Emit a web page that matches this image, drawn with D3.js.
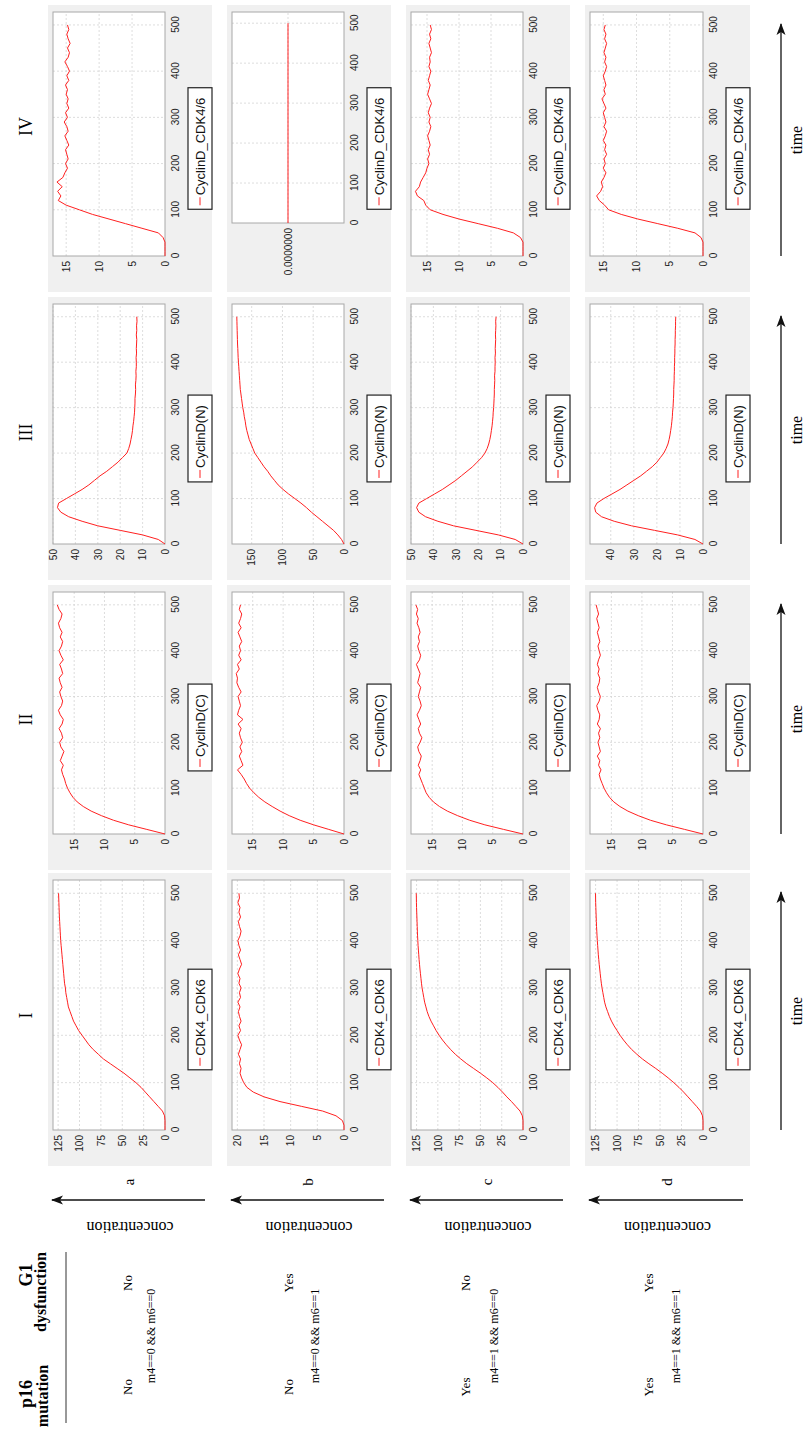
<!DOCTYPE html>
<html><head><meta charset="utf-8">
<script src="https://cdn.jsdelivr.net/npm/d3@7"></script>
<style>body{margin:0;background:#fff}svg{display:block}</style>
</head><body><svg id="c" width="804" height="1432"></svg>
<script>
// ---------------- data ----------------
const times = [0,10,20,30,40,50,60,70,80,90,100,110,120,130,140,150,160,170,180,190,200,210,220,230,240,250,260,270,280,290,300,310,320,330,340,350,360,370,380,390,400,410,420,430,440,450,460,470,480,490,500];
const timeTicks = [0,100,200,300,400,500];
const rowLabels = ["a","b","c","d"];
const colLabels = ["I","II","III","IV"];
const seriesNames = ["CDK4_CDK6","CyclinD(C)","CyclinD(N)","CyclinD_CDK4/6"];
const p16Values = ["No","No","Yes","Yes"];
const g1Values = ["No","Yes","No","Yes"];
const conditions = ["m4==0 && m6==0","m4==0 && m6==1","m4==1 && m6==0","m4==1 && m6==1"];

const cdk46_a = [0,0,0,0.5,3,8,13,18,23,28,34,41,48,56,64,72,78,84,89,93,97,101,104,107,109,111,113,114,115,116,116.5,117.5,118,118.5,119,119.5,120,120.5,121,121.5,122,122.3,122.6,122.9,123.2,123.5,123.7,123.9,124.1,124.3,124.5];
const cdk46_b = [0,0,0.3,1.5,4,8,12,15,17,18.2,18.8,19.2,19.5,19.3,19.6,19.4,19.8,19.5,19.2,19.6,19.9,19.4,19.7,19.3,19.6,19.8,19.5,19.9,19.4,19.6,19.3,19.7,19.5,19.9,19.6,19.2,19.5,19.8,19.4,19.7,19.9,19.5,19.3,19.6,19.8,19.4,19.7,19.5,19.9,19.6,19.7];
const cdk46_c = [0,0,0,0.8,3.5,8.5,13.5,19,24,29.5,35.5,42.5,50,58,66,73,79.5,85,90,94.5,98.5,102,105,108,110.5,112.5,114,115.5,116.5,117.5,118.5,119.2,119.8,120.4,121,121.5,122,122.4,122.8,123.2,123.5,123.8,124,124.2,124.4,124.6,124.8,125,125.1,125.2,125.3];
const cdk46_d = [0,0,0,0.6,3,7.5,12.5,17.5,22.5,28,34,40.5,47.5,55,63,70.5,77,83,88,92.5,96.5,100,103.5,106.5,109,111,113,114.5,115.5,116.5,117.5,118.3,119,119.6,120.2,120.8,121.3,121.8,122.2,122.6,123,123.3,123.6,123.9,124.1,124.3,124.5,124.7,124.9,125,125.1];

const cycC_a = [0,3,6,8.5,10.5,12.2,13.5,14.5,15.2,15.7,16.1,16.4,16.6,16.9,17.1,16.8,17.3,17.0,16.7,17.2,17.4,16.9,17.1,17.5,17.0,16.8,17.3,17.6,17.1,16.9,17.2,17.4,17.0,17.3,17.5,16.9,17.1,17.4,16.8,17.2,17.5,17.1,16.9,17.3,17.0,17.4,17.6,17.2,17.0,17.5,17.8];
const cycC_b = [0,2.5,5,7.2,9,10.5,11.8,13,14,14.8,15.5,16,16.4,16.9,17.5,16.6,16.9,17.2,16.8,17.1,16.7,17.0,17.2,16.9,17.4,16.6,17.5,17.3,17.0,17.2,17.4,16.9,17.3,17.6,17.5,17.7,17.2,17.5,16.9,17.3,17.0,17.2,16.8,17.1,17.4,16.9,17.3,17.0,16.8,17.2,17.0];
const cycC_c = [0,3.2,6.3,8.8,10.8,12.5,13.8,14.8,15.5,16,16.3,16.6,16.9,17.2,16.9,17.3,17.0,16.8,17.2,17.4,17.0,16.7,17.1,17.3,16.9,17.2,17.5,17.1,16.8,17.0,17.3,17.1,16.9,17.4,17.2,17.0,17.3,17.6,17.1,16.9,17.2,17.4,17.1,17.3,17.0,17.2,17.5,17.3,17.6,17.4,17.7];
const cycC_d = [0,3,6,8.6,10.6,12.3,13.6,14.6,15.3,15.8,16.2,16.5,16.8,17.0,16.7,17.1,16.9,17.3,16.8,17.0,17.2,16.9,17.1,16.8,17.3,17.0,16.9,17.2,17.4,17.0,16.8,17.1,17.3,17.0,16.9,17.2,17.0,17.3,17.1,16.8,17.0,17.2,16.9,17.1,17.3,17.0,17.2,17.4,17.1,17.3,17.5];

const cycN_a = [0,3,10,20,30,37,43,46.5,48,47.5,44,40.5,37,34,31.5,29,26,23.5,21,19,17,16.2,15.6,15.2,14.8,14.5,14.3,14.0,13.8,13.6,13.5,13.4,13.4,13.2,13.1,13.2,13.0,12.9,13.0,12.8,12.8,12.9,12.7,12.8,12.7,12.6,12.8,12.6,12.7,12.5,12.6];
const cycN_b = [0,4,10,17,26,35,44,53,61,70,80,90,99,107,113,119,124,130,135,140,145,148,151,154,156,158,159.5,160.5,162,163,164.5,165.5,166.5,167.5,168.5,169,169.5,170,170.5,171,171.5,172,172.3,172.6,173,173.2,173.4,173.6,173.8,174,174.2];
const cycN_c = [0,3.5,11,21,31,38,43.5,46.5,47.5,46.5,43,39.5,36,33,30,27.5,25,22.5,20.5,18.5,17,16,15.3,14.8,14.4,14.1,13.8,13.6,13.4,13.3,13.1,13.0,12.9,12.8,12.8,12.7,12.6,12.7,12.5,12.5,12.4,12.5,12.3,12.4,12.3,12.2,12.3,12.2,12.1,12.2,12.0];
const cycN_d = [0,3.5,11,21,31,38.5,44,46.5,47,46,43,39.5,36,33,30,27,24.5,22,20,18.5,17,16,15.2,14.7,14.3,14,13.7,13.5,13.3,13.2,13,12.9,12.8,12.7,12.7,12.6,12.5,12.5,12.4,12.4,12.3,12.3,12.2,12.2,12.1,12.1,12.0,12.0,11.9,11.9,11.8];

const cplx_a = [0,0,0,0,0.3,1,3.5,6,8.5,11,13,15,16.2,15.8,16.3,15.6,16.4,15.5,15.2,14.8,15.1,14.7,14.9,15.1,14.6,14.9,15.2,14.7,14.9,15.3,14.8,15.1,14.6,14.9,14.7,15.0,14.8,15.1,14.6,14.9,14.5,14.8,15.2,14.7,14.5,14.8,14.4,14.7,14.9,14.6,14.8];
const cplx_b = [0,0,0,0,0,0,0,0,0,0,0,0,0,0,0,0,0,0,0,0,0,0,0,0,0,0,0,0,0,0,0,0,0,0,0,0,0,0,0,0,0,0,0,0,0,0,0,0,0,0,0];
const cplx_c = [0,0,0,0,0.4,1.5,4,7,10,12.5,14.5,15.2,15.5,16.5,16.8,16.2,16.0,15.6,15.2,15.0,14.7,14.9,14.6,14.8,14.5,14.7,14.9,14.6,14.4,14.7,14.5,14.8,14.6,14.3,14.6,14.9,14.7,14.5,14.8,14.6,14.4,14.7,14.5,14.6,14.3,14.5,14.7,14.4,14.6,14.3,14.5];
const cplx_d = [0,0,0,0,0.3,1.2,3.8,6.8,9.8,12.3,14.2,14.8,15.6,16.0,15.4,15.1,15.3,14.9,14.6,15.0,14.7,14.9,14.5,14.8,14.6,15.0,14.7,14.5,14.9,14.6,14.8,15.0,14.6,14.9,15.2,14.7,14.9,14.6,14.8,15.0,14.7,14.5,14.8,14.6,14.9,14.7,14.5,14.8,14.6,14.9,14.7];

// value-axis tick labels and upper domain limit of each panel [row][col]
const valueTicks = [
  [[0,25,50,75,100,125],[0,5,10,15],[0,10,20,30,40,50],[0,5,10,15]],
  [[0,5,10,15,20],[0,5,10,15],[0,50,100,150],[0]],
  [[0,25,50,75,100,125],[0,5,10,15],[0,10,20,30,40,50],[0,5,10,15]],
  [[0,25,50,75,100,125],[0,5,10,15],[0,10,20,30,40],[0,5,10,15]]
];
const valueMax = [[131,18.5,50,17],[21,18.4,182,1],[131.5,18.5,50,17.5],[131.5,18.5,49,17]];
const valueMin = [[0,0,0,0],[0,0,0,-1],[0,0,0,0],[0,0,0,0]];
const timeMax = 528;

const seriesData = [
  [cdk46_a, cycC_a, cycN_a, cplx_a],
  [cdk46_b, cycC_b, cycN_b, cplx_b],
  [cdk46_c, cycC_c, cycN_c, cplx_c],
  [cdk46_d, cycC_d, cycN_d, cplx_d]
];

// ---------------- layout ----------------
const SERIF = '"Liberation Serif","Times New Roman",serif';
const SANS = '"Liberation Sans",Arial,sans-serif';
const svg = d3.select('#c');
const defs = svg.append('defs');
defs.append('marker').attr('id','ah').attr('viewBox','0 -5 12 10').attr('refX',11).attr('refY',0)
  .attr('markerWidth',12).attr('markerHeight',10).attr('markerUnits','userSpaceOnUse').attr('orient','auto')
  .append('path').attr('d','M0,-4.5L12,0L0,4.5L3,0Z').attr('fill','#111');

// whole figure drawn in its original orientation, then turned a quarter turn
const root = svg.append('g').attr('transform','translate(0,1432) rotate(-90)');

const colU = [[266,559],[562,847],[852,1135],[1140,1427]];
const rowV = [[48,212],[227,391],[406,570],[585,750]];

function drawPanel(r,c){
  const [u0,u1] = colU[c], [v0,v1] = rowV[r];
  const vals = seriesData[r][c];
  const flat = valueMin[r][c] < 0;
  const ml = flat ? 69 : 36;
  const pl = u0+ml, pr = u1-7, pt = v0+5, pb = v1-47;
  const g = root.append('g');
  g.append('rect').attr('x',u0).attr('y',v0).attr('width',u1-u0).attr('height',v1-v0).attr('fill','#f0f0f0');
  const x = d3.scaleLinear().domain([0,timeMax]).range([pl,pr]);
  const y = d3.scaleLinear().domain([valueMin[r][c],valueMax[r][c]]).range([pb,pt]);
  g.append('rect').attr('x',pl).attr('y',pt).attr('width',pr-pl).attr('height',pb-pt).attr('fill','#fff');
  g.selectAll('line.gx').data(timeTicks.filter(d=>d>0)).join('line').attr('class','gx')
    .attr('x1',d=>x(d)).attr('x2',d=>x(d)).attr('y1',pt).attr('y2',pb)
    .attr('stroke','#d4d4d4').attr('stroke-dasharray','2,2').attr('stroke-width',0.8);
  g.selectAll('line.gy').data(valueTicks[r][c].filter(d=>flat||d>0)).join('line').attr('class','gy')
    .attr('x1',pl).attr('x2',pr).attr('y1',d=>y(d)).attr('y2',d=>y(d))
    .attr('stroke','#d4d4d4').attr('stroke-dasharray','2,2').attr('stroke-width',0.8);
  g.append('rect').attr('x',pl).attr('y',pt).attr('width',pr-pl).attr('height',pb-pt)
    .attr('fill','none').attr('stroke','#a8a8a8').attr('stroke-width',1);
  const line = d3.line().x((d,i)=>x(times[i])).y(d=>y(d));
  g.append('path').datum(vals).attr('d',line).attr('fill','none').attr('stroke','#ff2020').attr('stroke-width',1);

  const ax = d3.axisBottom(x).tickValues(timeTicks).tickSize(0).tickPadding(7);
  g.append('g').attr('transform',`translate(0,${pb})`).call(ax)
    .call(s=>s.select('.domain').remove())
    .selectAll('text').attr('font-family',SANS).attr('font-size',10).attr('fill','#222');
  const ay = d3.axisLeft(y).tickValues(valueTicks[r][c]).tickSize(0).tickPadding(5)
    .tickFormat(flat ? d3.format('.7f') : d3.format('d'));
  g.append('g').attr('transform',`translate(${pl},0)`).call(ay)
    .call(s=>s.select('.domain').remove())
    .selectAll('text').attr('font-family',SANS).attr('font-size',10).attr('fill','#222');

  // legend
  const lg = g.append('g');
  const cu = (u0+u1)/2, lt = pb+23, lh = 24;
  const tx = lg.append('text').attr('font-family',SANS).attr('font-size',13).attr('fill','#111').text(seriesNames[c]);
  const tw = tx.node().getComputedTextLength();
  const bw = tw + 24;
  const bx = cu - bw/2;
  lg.insert('rect','text').attr('x',bx).attr('y',lt).attr('width',bw).attr('height',lh)
    .attr('fill','#fff').attr('stroke','#222').attr('stroke-width',1.2);
  lg.append('line').attr('x1',bx+4).attr('x2',bx+12).attr('y1',lt+lh/2).attr('y2',lt+lh/2)
    .attr('stroke','#ff2020').attr('stroke-width',1);
  tx.attr('x',bx+14).attr('y',lt+lh/2+4.5);
}
for (let r=0;r<4;r++) for (let c=0;c<4;c++) drawPanel(r,c);

// column headings
colLabels.forEach((t,c)=>{
  root.append('text').attr('x',(colU[c][0]+colU[c][1])/2 + [4,8,6,22][c]).attr('y',32)
    .attr('text-anchor','middle').attr('font-family',SERIF).attr('font-size',18).text(t);
});

// table header
root.append('text').attr('x',38).attr('y',32).attr('text-anchor','middle').attr('font-family',SERIF)
  .attr('font-weight','bold').attr('font-size',18).text('p16');
root.append('text').attr('x',36).attr('y',48).attr('text-anchor','middle').attr('font-family',SERIF)
  .attr('font-weight','bold').attr('font-size',16).text('mutation');
root.append('text').attr('x',157).attr('y',32).attr('text-anchor','middle').attr('font-family',SERIF)
  .attr('font-weight','bold').attr('font-size',18).text('G1');
root.append('text').attr('x',140).attr('y',46).attr('text-anchor','middle').attr('font-family',SERIF)
  .attr('font-weight','bold').attr('font-size',16).text('dysfunction');
root.append('line').attr('x1',9).attr('x2',180).attr('y1',66).attr('y2',66).attr('stroke','#333').attr('stroke-width',1);

const rowTextBase = [[132,155],[293,319],[470,498],[653,680]];
rowLabels.forEach((lab,r)=>{
  const [v0,v1] = rowV[r];
  const vc = (v0+v1)/2;
  root.append('text').attr('x',45).attr('y',rowTextBase[r][0]).attr('text-anchor','middle')
    .attr('font-family',SERIF).attr('font-size',13).text(p16Values[r]);
  root.append('text').attr('x',149).attr('y',rowTextBase[r][0]).attr('text-anchor','middle')
    .attr('font-family',SERIF).attr('font-size',13).text(g1Values[r]);
  root.append('text').attr('x',96).attr('y',rowTextBase[r][1]).attr('text-anchor','middle')
    .attr('font-family',SERIF).attr('font-size',12).text(conditions[r]);
  root.append('text').attr('transform',`translate(210,${vc}) rotate(-90)`).attr('text-anchor','middle')
    .attr('font-family',SERIF).attr('font-size',16).text('concentration');
  root.append('line').attr('x1',232).attr('x2',232).attr('y1',v1-7).attr('y2',v0+4)
    .attr('stroke','#111').attr('stroke-width',1.3).attr('marker-end','url(#ah)');
  root.append('text').attr('x',250).attr('y',vc+4).attr('text-anchor','middle')
    .attr('font-family',SERIF).attr('font-size',15).text(lab);
});

// time arrows
colLabels.forEach((t,c)=>{
  const [u0,u1] = colU[c];
  const a0 = u0+36, a1 = u1-19;
  root.append('line').attr('x1',a0).attr('x2',a1).attr('y1',781).attr('y2',781)
    .attr('stroke','#111').attr('stroke-width',1.3).attr('marker-end','url(#ah)');
  root.append('text').attr('x',(a0+a1)/2).attr('y',802).attr('text-anchor','middle')
    .attr('font-family',SERIF).attr('font-size',16).text('time');
});
</script></body></html>
